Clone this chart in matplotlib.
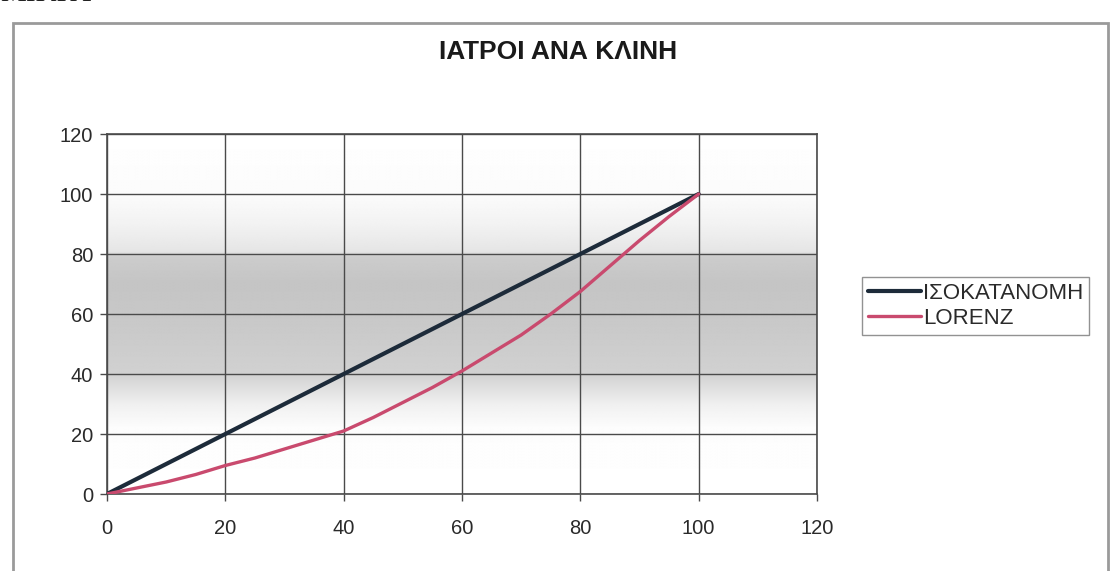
import numpy as np
import matplotlib
matplotlib.use("Agg")
import matplotlib.pyplot as plt
from matplotlib.patches import Rectangle

# Cumulative shares (%) of beds vs. doctors
equality_x = [0, 100]
equality_y = [0, 100]

lorenz_x = [0, 5, 10, 15, 20, 25, 30, 35, 40, 45, 50, 55, 60, 65, 70, 75, 80, 85, 90, 95, 100]
lorenz_y = [0, 2, 4, 6.5, 9.5, 12, 15, 18, 21, 25.5, 30.5, 35.5, 41, 47, 53, 60, 67.5, 76, 84.5, 92.5, 100]

series_labels = ["ΙΣΟΚΑΤΑΝΟΜΗ", "LORENZ"]
title = "ΙΑΤΡΟΙ ΑΝΑ ΚΛΙΝΗ"
x_ticks = [0, 20, 40, 60, 80, 100, 120]
y_ticks = [0, 20, 40, 60, 80, 100, 120]

plt.rcParams["font.family"] = ["Liberation Sans", "DejaVu Sans"]

W, H, DPI = 1112, 571, 100
fig = plt.figure(figsize=(W / DPI, H / DPI), dpi=DPI)
fig.patch.set_facecolor("white")

# outer chart frame
fig.add_artist(Rectangle((13 / W, -0.05), (1108 - 13) / W, 1.05 - 23 / H,
                         transform=fig.transFigure, fill=False,
                         edgecolor="#9a9a9a", linewidth=2.0))

# page heading above the chart (runs off the top edge)
fig.text(0 / W, 1 + 6 / H, "ΜΙΚΡΑ", fontsize=21, family=["Liberation Serif", "DejaVu Serif"],
         color="#222222", ha="left", va="center")

left, right = 107 / W, 817 / W
bottom, top = 1 - 494 / H, 1 - 134 / H
ax = fig.add_axes([left, bottom, right - left, top - bottom])
ax.set_xlim(0, 120)
ax.set_ylim(0, 120)

# plot-area fill: grey horizontal band fading to white
yy = np.linspace(0, 120, 600)
stops_y = [0, 22, 30, 40, 55, 70, 79, 81, 90, 100, 120]
stops_v = [1.0, 0.99, 0.94, 0.82, 0.79, 0.77, 0.80, 0.90, 0.95, 0.985, 1.0]
prof = np.interp(yy, stops_y, stops_v)
img = np.repeat(prof[:, None], 10, axis=1)
ax.imshow(img, extent=[0, 120, 0, 120], origin="lower", aspect="auto",
          cmap="gray", vmin=0, vmax=1, zorder=0, interpolation="bilinear")

ax.set_xticks(x_ticks)
ax.set_yticks(y_ticks)
ax.grid(True, color="#4a4a4a", linewidth=1.0, zorder=1)
for s in ax.spines.values():
    s.set_color("#4a4a4a")
    s.set_linewidth(1.2)
ax.tick_params(direction="out", length=5, width=1.0, color="#4a4a4a",
               labelsize=14.5, labelcolor="#2a2a2a")
ax.tick_params(axis="y", pad=5)
ax.tick_params(axis="x", pad=13)

ax.plot(equality_x, equality_y, color="#1d2b3a", linewidth=3.0,
        label=series_labels[0], zorder=3, solid_capstyle="round")
ax.plot(lorenz_x, lorenz_y, color="#c94a6e", linewidth=2.4,
        label=series_labels[1], zorder=3, solid_capstyle="round")

fig.text(558 / W, 1 - 52 / H, title, ha="center", va="center",
         fontsize=19, fontweight="bold", color="#1a1a1a")

leg = fig.legend(loc="center left", bbox_to_anchor=(862 / W, 1 - 306 / H),
                 fontsize=16, frameon=True, fancybox=False,
                 handlelength=2.4, handletextpad=0.1, borderpad=0.25,
                 labelspacing=0.2, borderaxespad=0)
leg.get_frame().set_edgecolor("#777777")
leg.get_frame().set_linewidth(1.0)
for t in leg.get_texts():
    t.set_color("#2a2a2a")

fig.savefig("out.png", dpi=DPI, facecolor="white")
